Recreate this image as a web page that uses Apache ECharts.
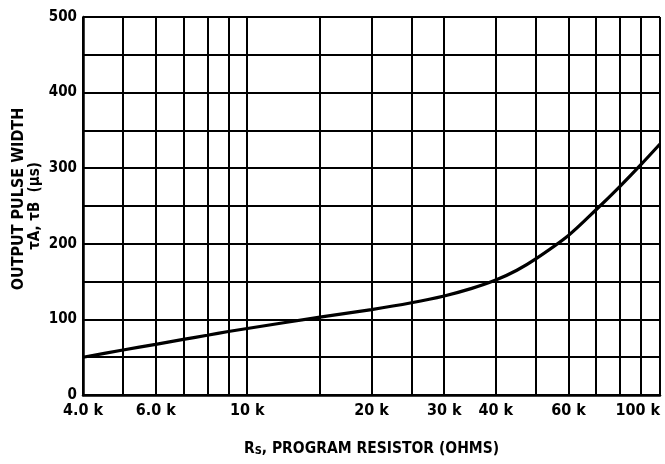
<!DOCTYPE html>
<html>
<head>
<meta charset="utf-8">
<script src="https://cdn.jsdelivr.net/npm/echarts@6/dist/echarts.min.js"></script>
<style>
html,body{margin:0;padding:0;background:#fff;}
#c{width:665px;height:464px;}
</style>
</head>
<body>
<div id="c"></div>
<script>
const gridX = [4000,5000,6000,7000,8000,9000,10000,15000,20000,25000,30000,40000,50000,60000,70000,80000,90000,100000];
const xLabelValues = [4000,6000,10000,20000,30000,40000,60000,100000];
const xLabelText = ['4.0 k','6.0 k','10 k','20 k','30 k','40 k','60 k','100 k'];
const curveX = [4000,5000,6000,7000,8000,9000,10000,15000,20000,25000,30000,35000,40000,45000,50000,60000,70000,80000,90000,100000];
const curveY = [50,59.5,67,73.5,79,84,88,103,113,122,131,141,152,165,180,211,245,276,305,332];
const yTickLabels = ['0','100','200','300','400','500'];

const FONT = '"DejaVu Sans Condensed","Liberation Sans Narrow","Liberation Sans",sans-serif';

const chart = echarts.init(document.getElementById('c'));
chart.setOption({
  animation:false,
  backgroundColor:'#fff',
  grid:{left:83,right:5,top:17,bottom:69},
  xAxis:{
    type:'log', logBase:10, min:4000, max:100000,
    axisLine:{show:true,lineStyle:{color:'#000',width:2.5}},
    axisTick:{show:false, customValues:gridX},
    splitLine:{show:true,lineStyle:{color:'#000',width:2}},
    axisLabel:{
      customValues:xLabelValues,
      color:'#000', fontFamily:FONT, fontWeight:'bold', fontSize:16, margin:8,
      alignMaxLabel:'right',
      formatter:function(v){const i=xLabelValues.indexOf(Math.round(v));return i>=0?xLabelText[i]:'';}
    },
    name:'{r|R}{s|S}{r|, PROGRAM RESISTOR (OHMS)}',
    nameLocation:'middle', nameGap:45,
    nameTextStyle:{rich:{
      r:{fontFamily:FONT,fontWeight:'bold',fontSize:15.5,color:'#000'},
      s:{fontFamily:FONT,fontWeight:'bold',fontSize:11,color:'#000',verticalAlign:'bottom',padding:[6,0,0,0]}
    }}
  },
  yAxis:{
    type:'value', min:0, max:500, interval:50,
    axisLine:{show:true,lineStyle:{color:'#000',width:2.5}},
    axisTick:{show:false},
    splitLine:{show:true,lineStyle:{color:'#000',width:2}},
    axisLabel:{
      interval:1, color:'#000', fontFamily:FONT, fontWeight:'bold', fontSize:15, margin:6,
      formatter:function(v){return v%100===0?yTickLabels[v/100]:'';}
    }
  },
  graphic:[
    {type:'text', x:18.5, y:199, rotation:Math.PI/2, style:{text:'OUTPUT PULSE WIDTH', fill:'#000', font:'bold 16px '+FONT, align:'center', verticalAlign:'middle'}},
    {type:'text', x:35.5, y:206, rotation:Math.PI/2, style:{text:'τA, τB  (μs)', fill:'#000', font:'bold 15px '+FONT, align:'center', verticalAlign:'middle'}}
  ],
  series:[{
    type:'line', smooth:0.3, symbol:'none',
    lineStyle:{color:'#000',width:3.2},
    data:curveX.map((x,i)=>[x,curveY[i]])
  }]
});
</script>
</body>
</html>
